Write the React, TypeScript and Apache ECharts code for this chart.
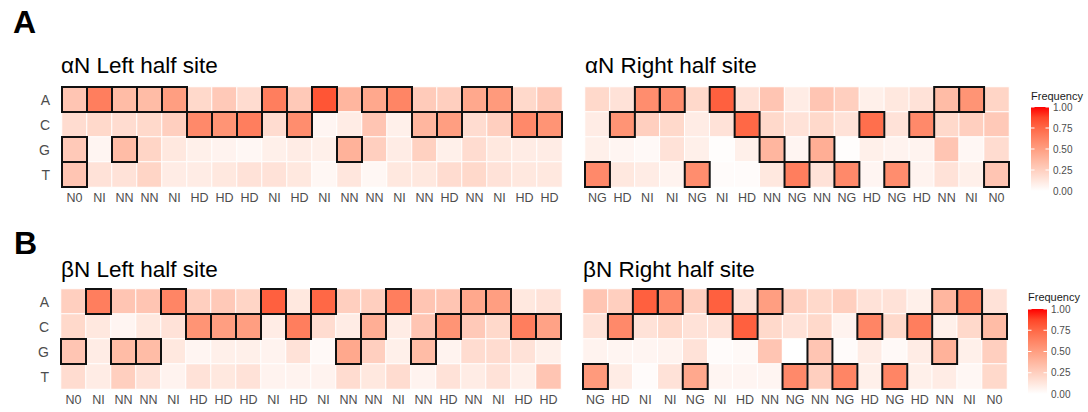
import React, { useEffect, useRef } from "react";
import * as echarts from "echarts";

// Bases shown on the y axis, top to bottom
const bases = ["A", "C", "G", "T"];

// RVD labels along each half site
const leftRVDs = ["N0", "NI", "NN", "NN", "NI", "HD", "HD", "HD", "NI", "HD", "NI", "NN", "NN", "NI", "NN", "HD", "NN", "NI", "HD", "HD"];
const rightRVDs = ["NG", "HD", "NI", "NI", "NG", "NI", "HD", "NN", "NG", "NN", "NG", "HD", "NG", "HD", "NN", "NI", "N0"];

// αN left half site: base frequency per position
const alphaLeftA = [0.30, 0.65, 0.35, 0.35, 0.50, 0.20, 0.28, 0.18, 0.65, 0.28, 0.82, 0.38, 0.45, 0.62, 0.27, 0.25, 0.45, 0.52, 0.20, 0.28];
const alphaLeftC = [0.18, 0.20, 0.18, 0.20, 0.25, 0.60, 0.55, 0.65, 0.18, 0.58, 0.05, 0.10, 0.30, 0.08, 0.38, 0.50, 0.18, 0.25, 0.60, 0.55];
const alphaLeftG = [0.28, 0.05, 0.35, 0.22, 0.12, 0.08, 0.06, 0.04, 0.08, 0.10, 0.08, 0.40, 0.25, 0.10, 0.24, 0.08, 0.18, 0.12, 0.10, 0.10];
const alphaLeftT = [0.30, 0.15, 0.15, 0.22, 0.10, 0.10, 0.12, 0.15, 0.15, 0.12, 0.04, 0.13, 0.04, 0.12, 0.12, 0.18, 0.20, 0.15, 0.12, 0.12];

// αN right half site
const alphaRightA = [0.20, 0.15, 0.58, 0.58, 0.20, 0.78, 0.15, 0.30, 0.10, 0.30, 0.25, 0.08, 0.12, 0.15, 0.35, 0.55, 0.22];
const alphaRightC = [0.10, 0.55, 0.25, 0.20, 0.10, 0.15, 0.75, 0.20, 0.15, 0.20, 0.15, 0.72, 0.15, 0.60, 0.20, 0.25, 0.28];
const alphaRightG = [0.08, 0.05, 0.03, 0.15, 0.08, 0.01, 0.08, 0.38, 0.05, 0.42, 0.01, 0.08, 0.06, 0.06, 0.30, 0.04, 0.18];
const alphaRightT = [0.60, 0.12, 0.10, 0.06, 0.58, 0.02, 0.02, 0.12, 0.65, 0.15, 0.60, 0.05, 0.58, 0.06, 0.15, 0.08, 0.30];

// βN left half site
const betaLeftA = [0.25, 0.65, 0.30, 0.30, 0.62, 0.25, 0.28, 0.22, 0.78, 0.12, 0.75, 0.25, 0.25, 0.65, 0.30, 0.30, 0.45, 0.50, 0.12, 0.15];
const betaLeftC = [0.20, 0.12, 0.05, 0.12, 0.15, 0.55, 0.50, 0.50, 0.10, 0.65, 0.18, 0.10, 0.42, 0.10, 0.30, 0.55, 0.28, 0.20, 0.65, 0.48];
const betaLeftG = [0.30, 0.10, 0.35, 0.35, 0.12, 0.05, 0.08, 0.08, 0.06, 0.15, 0.03, 0.45, 0.25, 0.08, 0.35, 0.06, 0.18, 0.18, 0.15, 0.08];
const betaLeftT = [0.18, 0.10, 0.25, 0.15, 0.06, 0.15, 0.12, 0.15, 0.06, 0.06, 0.06, 0.18, 0.12, 0.18, 0.06, 0.15, 0.10, 0.15, 0.08, 0.30];

// βN right half site
const betaRightA = [0.30, 0.25, 0.78, 0.60, 0.25, 0.78, 0.15, 0.50, 0.25, 0.20, 0.25, 0.15, 0.15, 0.08, 0.38, 0.62, 0.15];
const betaRightC = [0.15, 0.60, 0.15, 0.20, 0.15, 0.15, 0.78, 0.20, 0.15, 0.20, 0.06, 0.62, 0.20, 0.65, 0.08, 0.20, 0.35];
const betaRightG = [0.06, 0.05, 0.05, 0.06, 0.15, 0.02, 0.03, 0.30, 0.00, 0.30, 0.02, 0.10, 0.03, 0.10, 0.40, 0.08, 0.25];
const betaRightT = [0.52, 0.10, 0.02, 0.15, 0.45, 0.05, 0.05, 0.05, 0.60, 0.25, 0.62, 0.08, 0.62, 0.08, 0.10, 0.04, 0.20];

// Outlined (expected) bases per position
const alphaLeftBoxed = ["AGT", "A", "AG", "A", "A", "C", "C", "C", "A", "C", "A", "G", "A", "A", "C", "C", "A", "A", "C", "C"];
const alphaRightBoxed = ["T", "C", "A", "A", "T", "A", "C", "G", "T", "G", "T", "C", "T", "C", "A", "A", "T"];
const betaLeftBoxed = ["G", "A", "G", "G", "A", "C", "C", "C", "A", "C", "A", "G", "C", "A", "G", "C", "A", "A", "C", "C"];
const betaRightBoxed = ["T", "C", "A", "A", "T", "A", "C", "A", "T", "G", "T", "C", "T", "C", "AG", "A", "C"];

// Legend breaks
const legendBreaks = [0, 0.25, 0.5, 0.75, 1];

// white -> red ramp (interpolated in Lab space)
const ramp = ["#FFFFFF", "#FFE7DE", "#FFCFBF", "#FFB7A0", "#FF9E81", "#FF8464", "#FF6846", "#FF4628", "#FF0000"];

const FONT = "'Liberation Sans', Arial, Helvetica, sans-serif";

type Panel = {
  title: string;
  labels: string[];
  rows: number[][];
  boxed: string[];
  showBases: boolean;
  grid: { left: number; top: number; width: number; height: number };
};

const panels: Panel[] = [
  { title: "αN Left half site", labels: leftRVDs, rows: [alphaLeftA, alphaLeftC, alphaLeftG, alphaLeftT], boxed: alphaLeftBoxed, showBases: true, grid: { left: 62, top: 87, width: 500, height: 100 } },
  { title: "αN Right half site", labels: rightRVDs, rows: [alphaRightA, alphaRightC, alphaRightG, alphaRightT], boxed: alphaRightBoxed, showBases: false, grid: { left: 585, top: 87, width: 424, height: 100 } },
  { title: "βN Left half site", labels: leftRVDs, rows: [betaLeftA, betaLeftC, betaLeftG, betaLeftT], boxed: betaLeftBoxed, showBases: true, grid: { left: 61, top: 289, width: 500, height: 100 } },
  { title: "βN Right half site", labels: rightRVDs, rows: [betaRightA, betaRightC, betaRightG, betaRightT], boxed: betaRightBoxed, showBases: false, grid: { left: 583, top: 289, width: 424, height: 100 } },
];

function colorbar(x: number, y: number, w: number, h: number, titleY: number) {
  const children: any[] = [];
  children.push({
    type: "text",
    x,
    y: titleY,
    style: { text: "Frequency", font: `11px ${FONT}`, fill: "#1a1a1a", verticalAlign: "middle" },
  });
  children.push({
    type: "rect",
    shape: { x, y, width: w, height: h },
    style: {
      fill: {
        type: "linear",
        x: 0, y: 0, x2: 0, y2: 1,
        colorStops: ramp.slice().reverse().map((c, i) => ({ offset: i / (ramp.length - 1), color: c })),
      },
    },
  });
  legendBreaks.forEach((b) => {
    const ty = y + h - b * h;
    children.push({ type: "line", shape: { x1: x, y1: ty, x2: x + 3.5, y2: ty }, style: { stroke: "#fff", lineWidth: 1 } });
    children.push({ type: "line", shape: { x1: x + w - 3.5, y1: ty, x2: x + w, y2: ty }, style: { stroke: "#fff", lineWidth: 1 } });
    children.push({
      type: "text",
      x: x + w + 4,
      y: ty,
      style: { text: b.toFixed(2), font: `10px ${FONT}`, fill: "#4D4D4D", verticalAlign: "middle" },
    });
  });
  return { type: "group", children };
}

export default function App() {
  const ref = useRef<HTMLDivElement>(null);

  useEffect(() => {
    if (!ref.current) return;
    const chart = echarts.init(ref.current, undefined, { renderer: "svg" });

    const grid: any[] = [];
    const xAxis: any[] = [];
    const yAxis: any[] = [];
    const series: any[] = [];
    const heatIdx: number[] = [];

    panels.forEach((p, pi) => {
      grid.push({ ...p.grid, containLabel: false });
      xAxis.push({
        type: "category",
        gridIndex: pi,
        data: p.labels,
        axisLine: { show: false },
        axisTick: { show: false },
        splitLine: { show: false },
        axisLabel: { interval: 0, margin: 4, color: "#4D4D4D", fontSize: 12.5, fontFamily: FONT },
      });
      yAxis.push({
        type: "category",
        gridIndex: pi,
        data: bases,
        inverse: true,
        axisLine: { show: false },
        axisTick: { show: false },
        splitLine: { show: false },
        axisLabel: { show: p.showBases, margin: 12, color: "#4D4D4D", fontSize: 14, fontFamily: FONT },
      });

      const cells: number[][] = [];
      p.rows.forEach((row, r) => row.forEach((v, c) => cells.push([c, r, v])));
      heatIdx.push(series.length);
      series.push({
        type: "heatmap",
        xAxisIndex: pi,
        yAxisIndex: pi,
        data: cells,
        itemStyle: { borderColor: "#ffffff", borderWidth: 1 },
        emphasis: { disabled: true },
        silent: true,
      });

      const boxes: number[][] = [];
      p.boxed.forEach((s, c) => s.split("").forEach((b) => boxes.push([c, bases.indexOf(b)])));
      series.push({
        type: "custom",
        xAxisIndex: pi,
        yAxisIndex: pi,
        data: boxes,
        silent: true,
        z: 5,
        renderItem: (_params: any, api: any) => {
          const pt = api.coord([api.value(0), api.value(1)]);
          const sz = api.size([1, 1]);
          return {
            type: "rect",
            shape: { x: pt[0] - sz[0] / 2, y: pt[1] - sz[1] / 2, width: sz[0], height: sz[1] },
            style: { fill: "none", stroke: "#111111", lineWidth: 2 },
          };
        },
      });
    });

    const titleFont = `22.5px ${FONT}`;
    const graphic: any[] = [
      { type: "text", x: 13, y: 22, style: { text: "A", font: `bold 32px ${FONT}`, fill: "#000", verticalAlign: "middle" } },
      { type: "text", x: 14, y: 243, style: { text: "B", font: `bold 32px ${FONT}`, fill: "#000", verticalAlign: "middle" } },
      { type: "text", x: 61, y: 65, style: { text: panels[0].title, font: titleFont, fill: "#000", verticalAlign: "middle" } },
      { type: "text", x: 585, y: 65, style: { text: panels[1].title, font: titleFont, fill: "#000", verticalAlign: "middle" } },
      { type: "text", x: 61, y: 269, style: { text: panels[2].title, font: titleFont, fill: "#000", verticalAlign: "middle" } },
      { type: "text", x: 583, y: 269, style: { text: panels[3].title, font: titleFont, fill: "#000", verticalAlign: "middle" } },
      colorbar(1031, 107, 18, 84, 96),
      colorbar(1028, 309, 19, 85, 297),
    ];

    chart.setOption({
      animation: false,
      backgroundColor: "#ffffff",
      grid,
      xAxis,
      yAxis,
      visualMap: {
        type: "continuous",
        show: false,
        min: 0,
        max: 1,
        seriesIndex: heatIdx,
        inRange: { color: ramp },
      },
      series,
      graphic,
    });

    return () => chart.dispose();
  }, []);

  return (
    <div
      ref={ref}
      style={{ position: "fixed", left: 0, top: 0, width: 1088, height: 412, background: "#fff" }}
    />
  );
}
